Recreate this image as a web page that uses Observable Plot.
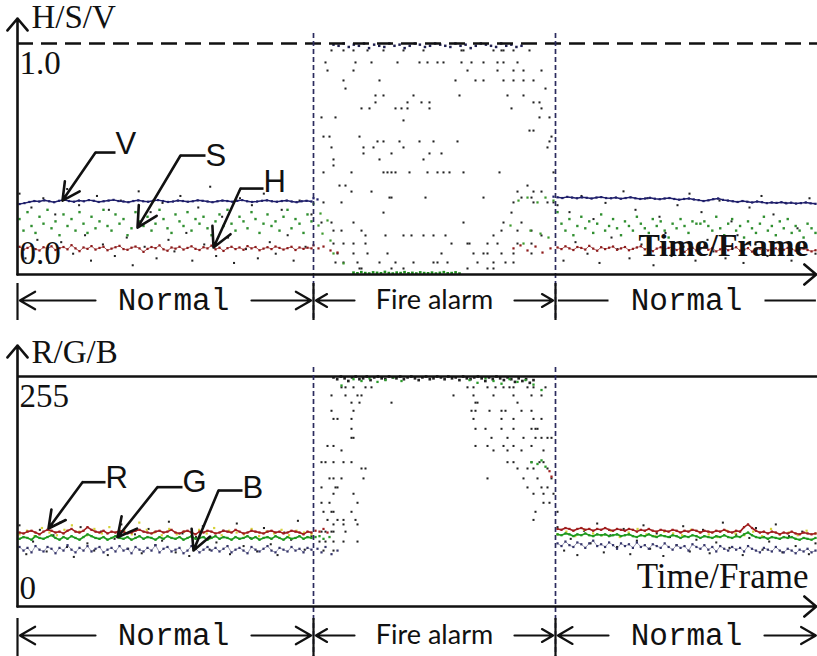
<!DOCTYPE html>
<html><head><meta charset="utf-8">
<script src="https://cdn.jsdelivr.net/npm/d3@7"></script>
<script src="https://cdn.jsdelivr.net/npm/@observablehq/plot@0.6"></script>
<style>body{margin:0;background:#fff;} #chart svg{display:block;}</style>
</head><body><div id="chart"></div>
<script>
// ================= DATA =================
const frameDomain = [0, 400];
const segments = [
  {label: "Normal", start: 0, end: 148, kind: "normal"},
  {label: "Fire alarm", start: 148, end: 269, kind: "fire"},
  {label: "Normal", start: 269, end: 400, kind: "normal"}
];
const normalSpans = [[1, 147], [270, 399]];
const xLabel = "Time/Frame";
const hsvTitle = "H/S/V";
const rgbTitle = "R/G/B";
const hsvTicks = [0, 1];
const rgbTicks = [0, 255];

// ---- H/S/V, normal periods ----
const vNormal1 = [.305,.309,.314,.318,.316,.321,.317,.313,.319,.323,.318,.315,.32,.317,.322,.319,.314,.317,.32,.323,.318,.316,.313,.318,.321,.317,.315,.319,.322,.318,.314,.316,.32,.318,.315,.317,.321,.319,.316,.313,.317,.32,.318,.315,.319,.322,.317,.314,.316,.319,.321,.317,.315,.318,.32,.316,.313,.317,.319,.316];
const vNormal2 = [.334,.331,.336,.333,.33,.334,.332,.329,.333,.335,.331,.33,.333,.328,.331,.334,.33,.327,.329,.332,.328,.326,.329,.331,.327,.324,.327,.329,.325,.322,.318,.321,.326,.329,.323,.32,.317,.314,.318,.315,.312,.316,.313,.309,.312,.31,.313,.308,.311,.307,.309,.312,.308,.306];
const sNormal1 = [.24,.19,.27,.21,.18,.25,.22,.28,.2,.23,.17,.26,.21,.24,.19,.27,.22,.18,.25,.2,.23,.28,.21,.19,.26,.22,.24,.17,.2,.27,.23,.21,.25,.19,.22,.28,.24,.2,.18,.26,.23,.21,.27,.19,.24,.22,.25,.2,.17,.23,.26,.21,.28,.22,.19,.25,.23,.2,.27,.24,.18,.22,.26,.21,.23,.19,.25,.28,.2,.24,.22,.18,.26,.23];
const sNormal2 = [.27,.22,.19,.24,.17,.21,.25,.2,.23,.18,.22,.26,.19,.21,.24,.2,.17,.23,.21,.19,.25,.22,.2,.18,.24,.21,.23,.19,.16,.22,.2,.24,.21,.18,.23,.22,.22,.23,.21,.19,.25,.2,.17,.22,.24,.19,.21,.16,.23,.2,.18,.22,.25,.19,.21,.17,.23,.2,.24,.18,.21,.19,.16,.22,.2,.18];
const hNormal1 = [.12,.108,.115,.125,.11,.104,.118,.112,.122,.106,.114,.119,.109,.127,.113,.101,.117,.111,.123,.108,.115,.12,.105,.112,.118,.124,.11,.107,.116,.121,.113,.098,.111,.119,.114,.126,.109,.103,.117,.112,.12,.108,.115,.122,.111,.106,.118,.113,.125,.109,.116,.102,.114,.12,.11,.117,.107,.123,.113,.119,.105,.112,.118,.11,.121,.115,.108,.114,.12,.106,.117,.111,.116,.113];
const hNormal2 = [.117,.11,.122,.113,.106,.119,.115,.108,.124,.112,.103,.118,.11,.116,.121,.107,.113,.119,.105,.111,.117,.122,.109,.114,.101,.112,.118,.108,.115,.12,.106,.113,.098,.11,.116,.104,.112,.119,.107,.114,.1,.109,.116,.105,.111,.118,.103,.108,.114,.099,.106,.112,.117,.104,.109,.113,.101,.107,.115,.11,.103,.108,.112,.106,.1,.105];
const hsvGrayNormal1 = [.35,.07,.29,.15,.33,.05,.26,.14,.37,.09,.3,.17,.06,.34,.13,.28,.08,.32,.16,.04,.36,.12,.27,.07,.31,.15,.1,.34,.18,.06,.29,.13,.38,.08,.25,.16,.05,.33,.11,.3,.07,.35,.14,.09,.28,.17,.06,.32,.12,.26];
const hsvGrayNormal2 = [.3,.06,.27,.14,.34,.09,.24,.05,.31,.16,.11,.36,.07,.28,.13,.33,.04,.25,.18,.08,.3,.12,.35,.06,.27,.15,.1,.32,.07,.23,.17,.05,.29,.13,.34,.08,.26,.11,.31,.06,.2,.14,.33,.09];

// ---- H/S/V, fire alarm period ----
const hsvFireRows = [
  [.97, [157,163,168,175,183,193,203,222,223,238,242,243,248,256]],
  [.918,[154,169,177,190,201,205,210,213,222,227,233,240,243,250]],
  [.883,[155,168,225,240,248,253,262]],
  [.84, [163,181,219,229,233,243,248,253,258]],
  [.805,[164,264]],
  [.775,[179,183,198,221,245,253]],
  [.745,[179,195,202,206,258,261]],
  [.719,[172,176,189,192,195,206,247,262]],
  [.68, [152,159,261,266]],
  [.667,[193]],
  [.623,[256,258]],
  [.597,[153,156,171,267]],
  [.576,[180,183,191,201,208,220,266]],
  [.55, [157,173,178,193,265]],
  [.524,[173,187,206,212]],
  [.498,[158,181,203]],
  [.472,[158]],
  [.442,[153,167,183,185,187,189,196,205,210,213,216,223,241,268]],
  [.385,[161,164,255]],
  [.359,[167,177,250,258,262]],
  [.333,[186,187,204,233,252,257]],
  [.312,[153,162,248,258,265,268]],
  [.268,[183,247]],
  [.225,[152,157,168,223,243,252]],
  [.19, [158,162,172,242,250,257]],
  [.169,[174,184,193,197,203,208,214,238,262]],
  [.134,[158,163,168,174,217,225,226,235,240,250,257]],
  [.091,[160,168,175,185,212,228,233,235,242,248,257]],
  [.052,[159,163,170,181,189,198,208,210,215,230,238,244,248]],
  [.026,[171,172,187,193,225,235,238]]
];
const vFireTop = [.995,.99,1,.985,.995,.99,1,.98,.995,.99,.985,1,.99,.995,.98,.99,1,.995,.985,.99,1,.995,.99,.985,1,.99,.995,.98,.99,1,.995,.99,.985,1,.99,.995,.985,.99];
const vFireTopSpan = [158, 252];
const sFireBottom = [.008,.005,.01,.006,.004,.009,.007,.005,.011,.006,.004,.008,.006,.01,.005,.007,.004,.009,.006,.005,.008,.004,.007,.01,.005,.006,.009,.004];
const sFireBottomSpan = [168, 221];
const sFireEdge = [[148,.307],[151.5,.264],[155,.234],[152.5,.177],[158,.091],[163,.048],[150.5,.212],[156.5,.147],[250.5,.32],[255,.333],[260,.312],[264,.333],[268,.32],[256.5,.19],[261.5,.177],[265.5,.16],[253,.134],[246.5,.212]];
const hFireEdge = [[148,.126],[150.5,.113],[153,.121],[156.5,.104],[160,.095],[248,.113],[251.5,.126],[255,.104],[259,.121],[262.5,.095],[266.5,.113]];
const vFireEdge = [[148,.33],[150,.325],[268,.337]];

// ---- R/G/B, normal periods ----
const rNormal1 = [82,81,83,84,82,80,83,85,84,82,83,81,84,86,83,82,84,88,85,83,82,84,81,83,82,84,83,81,82,84,85,83,82,81,83,84,82,83,85,82,81,83,84,82,80,83,82,84,83,81,82,84,83,82,85,83,81,82,84,83,82,81,83,84,82,83,81,82,84,83,82,80,83,82];
const rNormal2 = [86,85,87,86,84,86,87,85,86,84,86,85,87,85,84,86,85,84,86,85,83,85,84,86,84,83,85,84,83,85,84,82,84,83,85,84,82,84,83,82,84,83,85,83,82,84,83,88,91,87,84,82,83,81,83,82,80,82,81,83,81,80,82,81,80,81];
const gNormal1 = [75,77,76,74,78,76,75,77,79,76,74,77,75,78,76,74,77,80,78,76,75,77,74,76,78,76,75,77,74,76,78,75,77,76,74,77,75,78,76,75,77,74,76,78,75,76,77,74,76,78,75,77,76,74,77,75,76,78,75,77,74,76,77,75,78,76,74,77,75,76,78,75,77,76];
const gNormal2 = [80,79,81,80,78,80,79,81,79,78,80,79,80,78,79,80,78,79,80,78,77,79,78,80,78,77,79,78,77,79,78,76,78,77,79,78,76,78,77,76,78,77,79,77,76,78,77,80,82,79,77,76,77,75,77,76,75,77,76,77,75,74,76,75,74,76];
const bNormal1 = [66,62,65,60,67,63,61,66,64,59,65,62,68,63,60,65,62,67,61,64,66,60,63,65,61,67,62,64,59,66,63,61,65,62,68,60,64,66,61,63,65,59,62,67,64,60,63,66,62,65,61,64,67,60,63,65,62,59,66,63,61,64,67,62,60,65,63,61,66,62,64,60,65,63];
const bNormal2 = [70,67,72,68,66,71,69,65,70,73,67,69,66,71,68,64,70,67,69,65,71,66,68,64,69,67,65,70,66,63,68,65,67,62,69,66,64,68,63,66,61,67,64,62,66,63,65,61,67,64,62,60,65,63,61,66,62,60,64,62,59,63,61,64,60,62];
const yellowNormal1 = [80,84,78,87,82,79,85,90,83,79,86,81,88,78,84,80,93,85,82,79,86,80,83,78,85,81,87,79,84,82,80,86,78,83,81,85,79,84,82,80];
const yellowNormal2 = [80,83,78,85,81,79,84,77,82,86,80,78,83,81,79,85,82,80,77,84,81,79,83,78,86,80,82,79,84,81];
const rgbGrayNormal1 = [90,58,72,85,61,79,93,66,55,88,70,62,83,57,75,91,64,80,59,86,68,73,94,60,81,56,77,89,63,71,84,58,92,67,76,61,87,69,57,82,74,95,63,78];
const rgbGrayNormal2 = [88,62,75,57,84,70,92,60,79,66,86,58,73,90,64,81,56,77,68,89,61,74,85,59,71,93,65,80,57,76,87,63,72,91,60,78,67,83,58,70];

// ---- R/G/B, fire alarm period ----
const rgbFireRows = [
  [243,[162,164,168,174,177,225,228,235,239,243,246,248,255,258,264]],
  [234,[157,164,170,172,218,228,238,248,257,262]],
  [226,[167,171,187,229,230,250]],
  [217,[157,168,227,229,236,242,244,252,257]],
  [208,[158,160,167,228,242,248,258,262]],
  [197,[167,229,234,242,248,257,259,260]],
  [187,[167,168,237,245,253,259,262,265,267]],
  [178,[155,158,229,235,243,248,257]],
  [173,[162,238,245,252,263]],
  [160,[152,154,158,163,167,245,248,257,261,263]],
  [153,[172,174,250,255,258,265]],
  [142,[156,158,162,173,235,253,260,267]],
  [132,[152,159,160,255,262,265]],
  [125,[158,168,258,263,268]],
  [115,[152,156,170,263,266]],
  [105,[153,157,158,167,259,270]],
  [96, [155,160,163,169,258]],
  [91, [158,163,170]],
  [83, [152,154,157,158,164]],
  [72, [151,154,158,163,170]],
  [62, [153,158]]
];
const rgbFireTop = [254,252,255,253,250,254,255,252,253,255,251,254,255,253,252,255,254,253,255,252,254,255,253,251,254,255,252,253,255,254,252,255,253,254,251,255,253,252,254,255,253,250,254,252,255,253,251,254,252,249,253,250,252,248,251];
const rgbFireTopSpan = [158, 258];
const gFireEdge = [[168,252],[172,250],[176,253],[180,249],[184,251],[188,254],[192,250],[226,251],[230,248],[234,253],[238,250],[242,247],[246,252],[250,249],[254,251],[258,246],[162,245],[262,240],[257,160],[260,158],[262,162],[264,155],[149,77],[151,78],[153,75],[156,77]];
const rFireEdge = [[266,150],[267,144],[149,84],[151,83],[153,86],[155,82]];
const bFireEdge = [[150,64],[152,60],[154,66],[157,58],[160,62]];

// ---- callouts (tip = data point pointed at, elbow = bend of leader) ----
const hsvCallouts = [
  {label: "V", tip: [22.5, .32], elbow: [39, .528], end: 49, dy: 1},
  {label: "S", tip: [60, .203], elbow: [81.5, .515], end: 94, dy: 10},
  {label: "H", tip: [98, .117], elbow: [111.5, .372], end: 123, dy: 3}
];
const rgbCallouts = [
  {label: "R", tip: [15.5, 86.5], elbow: [32.5, 137.8], end: 44, dy: 6},
  {label: "G", tip: [50, 76.8], elbow: [70, 132.3], end: 82.5, dy: 5},
  {label: "B", tip: [88, 62.1], elbow: [100.5, 128.6], end: 112.5, dy: 7}
];

// ================= HELPERS =================
const SERIF = "Liberation Serif, Times New Roman, serif";
const MONO = "Liberation Mono, Courier New, monospace";
const SANS = "Lato, Liberation Sans, sans-serif";
const NARROW = "Liberation Sans Narrow, Liberation Sans, Arial, sans-serif";

function spread(values, span, seg) {
  const n = values.length;
  return values.map((v, i) => ({frame: span[0] + i * (span[1] - span[0]) / (n - 1), value: v, seg}));
}
function both(parts) {
  return parts.flatMap((vals, k) => spread(vals, normalSpans[k], k));
}
function rows(groups) {
  return groups.flatMap(([value, frames]) => frames.map(frame => ({frame, value})));
}
function pairs(list) { return list.map(([frame, value]) => ({frame, value})); }

const labelHalf = {normal: 28, fire: 29};
const labelGap = 11, tipPad = 1.2;
const labelShift = [4, 0, 0]; // frames: text of first period sits slightly right of centre

function buildPanel(cfg) {
  const inv = d3.scaleLinear(cfg.yDomain, cfg.yRange).invert;
  const [yLo, yHi] = cfg.yDomain;
  const annotV = inv(cfg.annotY);
  const marks = [];

  // ---- data ----
  for (const s of cfg.dots) {
    if (s.line) marks.push(Plot.line(s.data, {x: "frame", y: "value", z: "seg", stroke: s.color, strokeWidth: s.line, strokeOpacity: s.lineOpacity ?? 1}));
    marks.push(Plot.dot(s.data, {x: "frame", y: "value", r: s.r ?? 1.25, symbol: "square", fill: s.color}));
  }

  // ---- frame lines ----
  marks.push(Plot.ruleY([yHi], {x1: frameDomain[0], x2: frameDomain[1], stroke: "#111", strokeWidth: 2.6, strokeDasharray: cfg.topDash}));
  marks.push(Plot.ruleX(segments.slice(1).map(s => s.start), {y1: inv(cfg.dashTop), y2: inv(cfg.height + 4), stroke: "#2b2b5e", strokeWidth: 1.7, strokeDasharray: "5,3"}));
  marks.push(Plot.arrow([0], {x1: frameDomain[0], x2: frameDomain[0], y1: yLo, y2: inv(cfg.axisTip), stroke: "#111", strokeWidth: 2.6, headLength: 9, headAngle: 80}));
  marks.push(Plot.arrow([0], {x1: frameDomain[0], x2: frameDomain[1] - 0.6, y1: yLo, y2: yLo, stroke: "#111", strokeWidth: 2.6, headLength: 9, headAngle: 80}));

  // ---- tick labels & titles ----
  marks.push(Plot.text([yHi], {x: frameDomain[0], y: d => d, text: cfg.tickFormat, textAnchor: "start", lineAnchor: "top", dx: 2, dy: 7, fontSize: 33, fontFamily: SERIF, fill: "#111"}));
  marks.push(Plot.text([yLo], {x: frameDomain[0], y: d => d, text: cfg.tickFormat, textAnchor: "start", lineAnchor: "bottom", dx: 2, dy: cfg.zeroDy, fontSize: 33, fontFamily: SERIF, fill: "#111"}));
  marks.push(Plot.text([cfg.title], {x: frameDomain[0], y: inv(cfg.titleBase), text: d => d, textAnchor: "start", lineAnchor: "bottom", dx: 14, fontSize: 33, fontFamily: SERIF, fill: "#111"}));
  marks.push(Plot.text([xLabel], {x: frameDomain[1], y: yLo, text: d => d, textAnchor: "end", lineAnchor: "bottom", dx: -9, dy: cfg.timeDy, fontSize: cfg.timeSize, fontWeight: cfg.timeWeight, fontFamily: SERIF, fill: "#111"}));

  // ---- callouts ----
  const co = cfg.callouts;
  marks.push(Plot.arrow(co, {x1: d => d.elbow[0], y1: d => d.elbow[1], x2: d => d.tip[0], y2: d => d.tip[1], stroke: "#111", strokeWidth: 2.6, headLength: 13, headAngle: 55}));
  marks.push(Plot.link(co, {x1: d => d.elbow[0], y1: d => d.elbow[1], x2: d => d.end, y2: d => d.elbow[1], stroke: "#111", strokeWidth: 2.6}));
  for (const d of co) {
    marks.push(Plot.text([d], {x: d => d.end, y: d => d.elbow[1], text: "label", textAnchor: "start", lineAnchor: "bottom", dx: 0, dy: d.dy, fontSize: 31, fontFamily: NARROW, fill: "#111"}));
  }

  // ---- period annotation row ----
  marks.push(Plot.ruleX([segments[0].start, ...segments.slice(1).map(s => s.start)], {y1: inv(cfg.barTop), y2: inv(cfg.height + 4), stroke: "#111", strokeWidth: 2.2}));
  const heads = [], plain = [];
  segments.forEach((s, k) => {
    const mid = (s.start + s.end) / 2 + labelShift[k], half = labelHalf[s.kind];
    const left = {x1: mid - half - labelGap, x2: s.start + tipPad};
    const right = {x1: mid + half + labelGap, x2: s.end - (k === segments.length - 1 ? 0.8 : tipPad)};
    if (cfg.plainLast && k === segments.length - 1) plain.push(left, right);
    else heads.push(left, right);
  });
  marks.push(Plot.arrow(heads, {x1: "x1", x2: "x2", y1: annotV, y2: annotV, stroke: "#111", strokeWidth: 2.2, headLength: 12, headAngle: 60}));
  marks.push(Plot.link(plain, {x1: "x1", x2: "x2", y1: annotV, y2: annotV, stroke: "#111", strokeWidth: 2.2}));
  marks.push(Plot.text(segments.map((s, k) => ({...s, k})).filter(s => s.kind === "normal"), {x: s => (s.start + s.end) / 2 + labelShift[s.k], y: annotV, text: "label", fontFamily: MONO, fontSize: 31, fill: "#111"}));
  marks.push(Plot.text(segments.filter(s => s.kind === "fire"), {x: s => (s.start + s.end) / 2, y: annotV, text: "label", fontFamily: SANS, fontSize: 27, fill: "#111"}));

  return Plot.plot({
    width: 817, height: cfg.height,
    x: {domain: frameDomain, range: [17, 817], axis: null},
    y: {domain: cfg.yDomain, range: cfg.yRange, axis: null},
    style: {background: "#fff", overflow: "hidden"},
    marks
  });
}

// ================= PANELS =================
const hsvPanel = buildPanel({
  height: 320, yDomain: [0, 1], yRange: [274, 43], topDash: "16,8",
  dashTop: 33, axisTip: 18, titleBase: 27, annotY: 300, barTop: 283,
  zeroDy: -11, timeDy: -19, timeSize: 32, timeWeight: "bold",
  tickFormat: d => d3.format(".1f")(d), title: hsvTitle, callouts: hsvCallouts, plainLast: true,
  dots: [
    {data: both([hsvGrayNormal1, hsvGrayNormal2]).concat(rows(hsvFireRows)), color: "#222", r: 1.15},
    {data: both([sNormal1, sNormal2]), color: "#2f8f2f", r: 1.35},
    {data: pairs(sFireEdge), color: "#3c9a2c"},
    {data: spread(sFireBottom, sFireBottomSpan, 9), color: "#1f8f1f", r: 1.5},
    {data: both([hNormal1, hNormal2]), color: "#8e1b1b", line: 1, lineOpacity: 0.7},
    {data: pairs(hFireEdge), color: "#8e1b1b"},
    {data: both([vNormal1, vNormal2]), color: "#1f1f6b", line: 1.5},
    {data: spread(vFireTop, vFireTopSpan, 9), color: "#1f1f50", r: 1.4},
    {data: pairs(vFireEdge), color: "#1f1f6b"}
  ]
});

const rgbPanel = buildPanel({
  height: 336, yDomain: [0, 255], yRange: [286, 56], topDash: null,
  dashTop: 47, axisTip: 25, titleBase: 42, annotY: 315, barTop: 298,
  zeroDy: -8, timeDy: -19, timeSize: 35, timeWeight: "normal",
  tickFormat: d => d3.format("d")(d), title: rgbTitle, callouts: rgbCallouts, plainLast: false,
  dots: [
    {data: both([rgbGrayNormal1, rgbGrayNormal2]).concat(rows(rgbFireRows)), color: "#222", r: 1.15},
    {data: both([bNormal1, bNormal2]), color: "#35356a", line: 0.9, lineOpacity: 0.55},
    {data: pairs(bFireEdge), color: "#35356a"},
    {data: both([yellowNormal1, yellowNormal2]), color: "#d6d23a"},
    {data: both([gNormal1, gNormal2]), color: "#1f9a1f", line: 1.7},
    {data: both([rNormal1, rNormal2]), color: "#a01e1e", line: 1.6},
    {data: pairs(rFireEdge), color: "#a01e1e"},
    {data: spread(rgbFireTop, rgbFireTopSpan, 9), color: "#222", r: 1.5},
    {data: pairs(gFireEdge), color: "#2a9a2a", r: 1.3}
  ]
});

document.getElementById("chart").append(hsvPanel, rgbPanel);
</script>
</body></html>
